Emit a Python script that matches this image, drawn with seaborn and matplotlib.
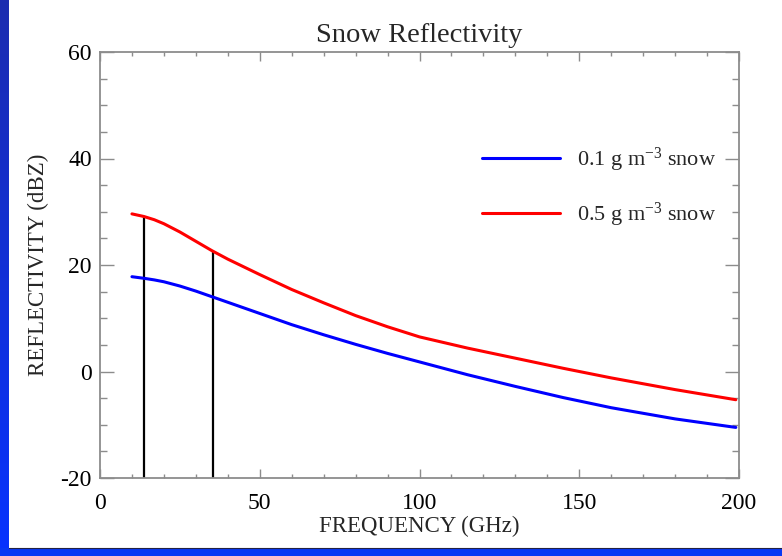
import numpy as np
import pandas as pd
import matplotlib
matplotlib.use("Agg")
import matplotlib.pyplot as plt
from matplotlib.ticker import MultipleLocator
from matplotlib.colors import LinearSegmentedColormap
import seaborn as sns

# ---- data ----
freq = [10, 13.8, 17, 20, 25, 30, 35, 40, 50, 60, 70, 80, 90, 100, 115, 130, 145, 160, 180, 199]
refl_01 = [17.8, 17.5, 17.2, 16.85, 16.05, 15.1, 14.05, 13.0, 10.9, 8.8, 6.9, 5.1, 3.4, 1.8, -0.6, -2.8, -4.9, -6.8, -8.9, -10.5]
refl_05 = [29.6, 29.1, 28.5, 27.75, 26.2, 24.45, 22.7, 21.1, 18.2, 15.4, 12.9, 10.5, 8.4, 6.5, 4.4, 2.5, 0.6, -1.2, -3.4, -5.3]
series_labels = ["0.1 g m$^{\\mathregular{-3}}$ snow", "0.5 g m$^{\\mathregular{-3}}$ snow"]
marker_freq = [13.8, 35.4]
marker_top = [29.1, 22.6]
title = "Snow Reflectivity"
xlabel = "FREQUENCY (GHz)"
ylabel = "REFLECTIVITY (dBZ)"

df = pd.DataFrame({
    "freq": freq * 2,
    "refl": refl_01 + refl_05,
    "series": [series_labels[0]] * len(freq) + [series_labels[1]] * len(freq),
})

sns.set_style("white")
plt.rcParams["font.family"] = ["Liberation Serif", "DejaVu Serif"]
plt.rcParams["mathtext.fontset"] = "custom"
plt.rcParams["mathtext.rm"] = "Liberation Serif"
plt.rcParams["mathtext.it"] = "Liberation Serif"
plt.rcParams["axes.unicode_minus"] = False

fig = plt.figure(figsize=(7.82, 5.56), dpi=100)
fig.patch.set_facecolor("white")

# blue frame decorations (left strip with gradient, bottom strip)
bg = fig.add_axes([0, 0, 1, 1], zorder=-10)
bg.set_axis_off()
bg.set_xlim(0, 782)
bg.set_ylim(556, 0)
cmap = LinearSegmentedColormap.from_list("bl", ["#1c2db0", "#0733ff"])
grad = np.linspace(0, 1, 256).reshape(-1, 1)
bg.imshow(grad, cmap=cmap, extent=[0, 9, 556, 0], aspect="auto")
bg.add_patch(plt.Rectangle((0, 548), 782, 8, color="#0838f4", lw=0))
bg.plot([9, 782], [547.5, 547.5], color="#222244", lw=0.8)

ax = fig.add_axes([100 / 782, 1 - 478 / 556, 639 / 782, 426 / 556])
sns.lineplot(data=df, x="freq", y="refl", hue="series",
             palette={series_labels[0]: "#0000ff", series_labels[1]: "#ff0000"},
             linewidth=2.2, ax=ax, sort=False)

ax.vlines(marker_freq, -20, marker_top, colors="black", linewidth=1.6, zorder=1)

ax.set_xlim(0, 200)
ax.set_ylim(-20, 60)
ax.xaxis.set_major_locator(MultipleLocator(50))
ax.xaxis.set_minor_locator(MultipleLocator(10))
ax.yaxis.set_major_locator(MultipleLocator(20))
ax.yaxis.set_minor_locator(MultipleLocator(5))

gray = "#8c8c8c"
for s in ax.spines.values():
    s.set_color(gray)
    s.set_linewidth(1.3)
    s.set_visible(True)
ax.tick_params(axis="x", which="major", direction="in", length=6.5, width=1.0, color=gray,
               top=True, bottom=True, labelsize=17, pad=11, labelcolor="black")
ax.tick_params(axis="x", which="minor", direction="in", length=3.2, width=1.0, color=gray,
               top=True, bottom=True)
ax.tick_params(axis="y", which="major", direction="in", length=10, width=1.0, color=gray,
               left=True, right=True, labelsize=17, pad=6, labelcolor="black")
ax.tick_params(axis="y", which="minor", direction="in", length=5, width=1.0, color=gray,
               left=True, right=True)

ax.set_title(title, fontsize=20.5, pad=7)
ax.set_xlabel(xlabel, fontsize=16.5, labelpad=1)
ax.set_ylabel(ylabel, fontsize=16.5, labelpad=8)

leg = ax.legend(loc="upper right", bbox_to_anchor=(0.995, 0.826), frameon=False,
                fontsize=16, handlelength=3.5, handletextpad=0.75, labelspacing=1.18,
                title=None)
for h in leg.get_lines():
    h.set_linewidth(2.2)

fig.savefig("out.png", dpi=100, facecolor="white")
